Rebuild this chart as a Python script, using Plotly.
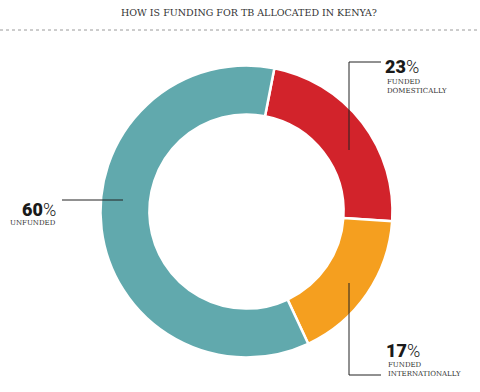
import plotly.graph_objects as go

labels = ["Funded domestically", "Funded internationally", "Unfunded"]
values = [23, 17, 60]
colors = ["#d2232b", "#f59f1f", "#61a9ad"]
title_text = "HOW IS FUNDING FOR TB ALLOCATED IN KENYA?"
sub_labels = [["FUNDED", "DOMESTICALLY"], ["FUNDED", "INTERNATIONALLY"], ["UNFUNDED"]]

W, H = 480, 392

def px(x):
    return x / W

def py(y):
    return 1 - y / H

fig = go.Figure(go.Pie(
    labels=labels, values=values, sort=False, direction="clockwise",
    rotation=11, hole=0.665,
    marker=dict(colors=colors, line=dict(color="white", width=2.5)),
    textinfo="none", hoverinfo="label+percent", showlegend=False,
    domain=dict(x=[px(100.5), px(392.5)], y=[py(357.5), py(65.5)]),
))

line = dict(color="#222222", width=1)
shapes = [
    dict(type="line", xref="paper", yref="paper", x0=0, x1=1, y0=py(30), y1=py(30),
         line=dict(color="#9a9a9a", width=1, dash="dot")),
    dict(type="line", xref="paper", yref="paper", x0=px(349), x1=px(381), y0=py(62), y1=py(62), line=line),
    dict(type="line", xref="paper", yref="paper", x0=px(349), x1=px(349), y0=py(62), y1=py(150), line=line),
    dict(type="line", xref="paper", yref="paper", x0=px(349), x1=px(349), y0=py(283), y1=py(375), line=line),
    dict(type="line", xref="paper", yref="paper", x0=px(349), x1=px(381), y0=py(375), y1=py(375), line=line),
    dict(type="line", xref="paper", yref="paper", x0=px(62), x1=px(123), y0=py(200), y1=py(200), line=line),
]

num_font = dict(family="Roboto", size=18, color="#1a1a1a")
small_font = dict(family="DejaVu Serif", size=7, color="#333333")

def big(n):
    return f"<span style='font-weight:900'>{n}</span><span style='font-weight:300'>%</span>"

def ann(text, x, y, font, xanchor="left"):
    return dict(text=text, x=px(x), y=py(y), xref="paper", yref="paper",
                showarrow=False, font=font, xanchor=xanchor, yanchor="middle",
                borderpad=0)

annotations = [
    dict(text=title_text, x=px(249), y=py(12), xref="paper", yref="paper",
         showarrow=False, font=dict(family="DejaVu Serif", size=9.5, color="#333333"),
         xanchor="center", yanchor="middle"),
    ann(big(values[0]), 384, 66, num_font),
    ann(sub_labels[0][0], 386, 82, small_font),
    ann(sub_labels[0][1], 386, 91, small_font),
    ann(big(values[1]), 385, 350, num_font),
    ann(sub_labels[1][0], 387, 365, small_font),
    ann(sub_labels[1][1], 387, 374, small_font),
    ann(big(values[2]), 57, 209, num_font, "right"),
    ann(sub_labels[2][0], 57, 223, small_font, "right"),
]

fig.update_layout(
    width=W, height=H, margin=dict(l=0, r=0, t=0, b=0),
    paper_bgcolor="white", plot_bgcolor="white",
    shapes=shapes, annotations=annotations,
)

fig.write_html("out.html", config={"displayModeBar": False},
               post_script="document.body.style.margin='0';")
